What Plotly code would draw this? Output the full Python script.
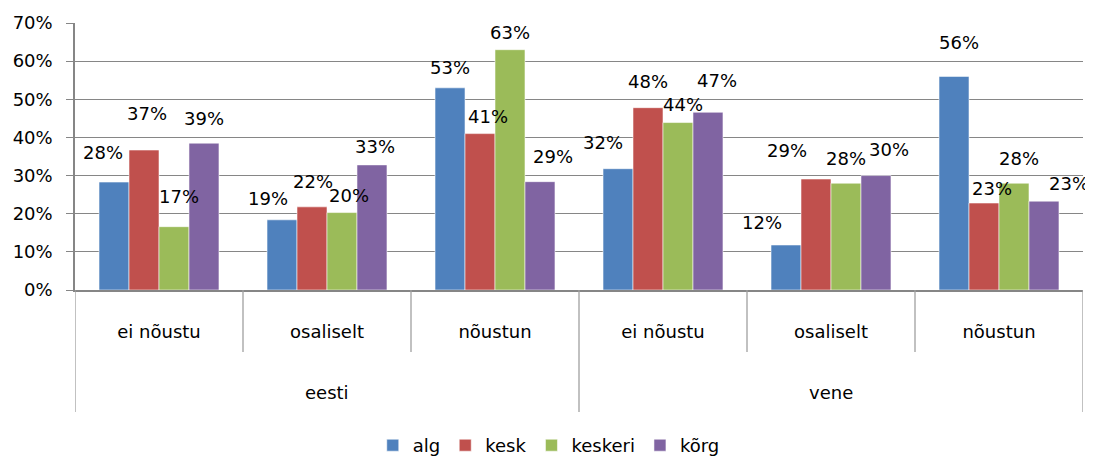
import plotly.graph_objects as go

# ---- data ----
groups = ["eesti", "vene"]
answers = ["ei nõustu", "osaliselt", "nõustun"]
series_names = ["alg", "kesk", "keskeri", "kõrg"]
alg = [0.28, 0.19, 0.53, 0.32, 0.12, 0.56]
kesk = [0.37, 0.22, 0.41, 0.48, 0.29, 0.23]
keskeri = [0.17, 0.20, 0.63, 0.44, 0.28, 0.28]
korg = [0.39, 0.33, 0.29, 0.47, 0.30, 0.23]
# exact bar heights (labels are rounded)
alg_h = [0.283, 0.184, 0.530, 0.318, 0.118, 0.560]
kesk_h = [0.367, 0.218, 0.410, 0.478, 0.291, 0.228]
keskeri_h = [0.166, 0.203, 0.630, 0.439, 0.280, 0.280]
korg_h = [0.385, 0.328, 0.284, 0.466, 0.300, 0.233]
y_ticks = [0, 0.1, 0.2, 0.3, 0.4, 0.5, 0.6, 0.7]

# ---- style ----
colors = ["#4F81BD", "#C0504D", "#9BBB59", "#8064A2"]
FONT = "DejaVu Sans"
FS = 18
BARGAP = 0.286
# label nudges in px (dx, dy above bar top) per series per category
label_dx = [[-11, -14, 0, -15, -24, 5],
            [3, 1, 8, 0, -29, 8],
            [5, 7, 0, 5, 0, 5],
            [0, 3, 13, 9, 13, 25]]
label_dy = [[30, 21, 20, 26, 22, 34],
            [37, 25, 17, 26, 29, 15],
            [30, 17, 17, 18, 25, 25],
            [25, 18, 25, 32, 26, 18]]

# page has an 8px body margin: figure is sized to fill the rest of the window
W, H = 1085, 449
ML, MR, MT, MB = 67, 10, 15, 167

cats = [a for g in groups for a in answers]
xpos = list(range(len(cats)))
heights = [alg_h, kesk_h, keskeri_h, korg_h]
labels = [alg, kesk, keskeri, korg]

fig = go.Figure()
for j, name in enumerate(series_names):
    fig.add_trace(go.Bar(
        x=xpos, y=heights[j], name=name,
        marker=dict(color=colors[j], line=dict(color="rgba(255,255,255,0.55)", width=1)),
        hoverinfo="skip",
    ))

n = len(series_names)
w = (1 - BARGAP) / n
annotations = []
for j in range(n):
    for i in xpos:
        annotations.append(dict(
            x=i + (j - (n - 1) / 2) * w, y=heights[j][i], xref="x", yref="y",
            text=f"{round(labels[j][i]*100)}%", showarrow=False,
            xshift=label_dx[j][i], yshift=label_dy[j][i],
            xanchor="center", yanchor="middle",
            font=dict(family=FONT, size=FS, color="#000000"),
        ))

plot_h = H - MT - MB
inner_bottom = -62 / plot_h
outer_bottom = -122 / plot_h
outer_label_y = -102 / plot_h

shapes = []
na = len(answers)
for k in range(len(cats) + 1):
    is_outer = (k % na == 0)
    shapes.append(dict(
        type="line", xref="x", yref="paper",
        x0=k - 0.5, x1=k - 0.5, y0=0, y1=outer_bottom if is_outer else inner_bottom,
        line=dict(color="#A0A0A0", width=1.3),
    ))

for gi, g in enumerate(groups):
    annotations.append(dict(
        x=gi * na + (na - 1) / 2, y=outer_label_y, xref="x", yref="paper",
        text=g, showarrow=False, xanchor="center", yanchor="middle",
        font=dict(family=FONT, size=FS, color="#000000"),
    ))

fig.update_layout(
    width=W, height=H,
    margin=dict(l=ML, r=MR, t=MT, b=MB, autoexpand=False),
    paper_bgcolor="white", plot_bgcolor="white",
    barmode="group", bargap=BARGAP, bargroupgap=0,
    font=dict(family=FONT, size=FS, color="#000000"),
    showlegend=True,
    legend=dict(orientation="h", x=0.47, xanchor="center", y=-137 / plot_h,
                yanchor="top", font=dict(family=FONT, size=FS), itemwidth=30,
                tracegroupgap=0),
    annotations=annotations,
    shapes=shapes,
)
fig.update_xaxes(
    range=[-0.5, len(cats) - 0.5], tickmode="array", tickvals=xpos, ticktext=cats,
    showgrid=False, zeroline=False, showline=True, linecolor="#868686", linewidth=1.5,
    ticks="", ticklabelstandoff=25, tickfont=dict(family=FONT, size=FS),
    fixedrange=True, automargin=False,
)
fig.update_yaxes(
    range=[0, 0.7], tickmode="array", tickvals=y_ticks, tickformat=".0%",
    showgrid=True, gridcolor="#868686", gridwidth=1.3, zeroline=False,
    showline=True, linecolor="#868686", linewidth=1.5,
    ticks="outside", ticklen=7, tickcolor="#868686", tickwidth=1.3,
    ticklabelstandoff=10, tickfont=dict(family=FONT, size=FS),
    fixedrange=True, automargin=False,
)

fig.write_html("out.html")
